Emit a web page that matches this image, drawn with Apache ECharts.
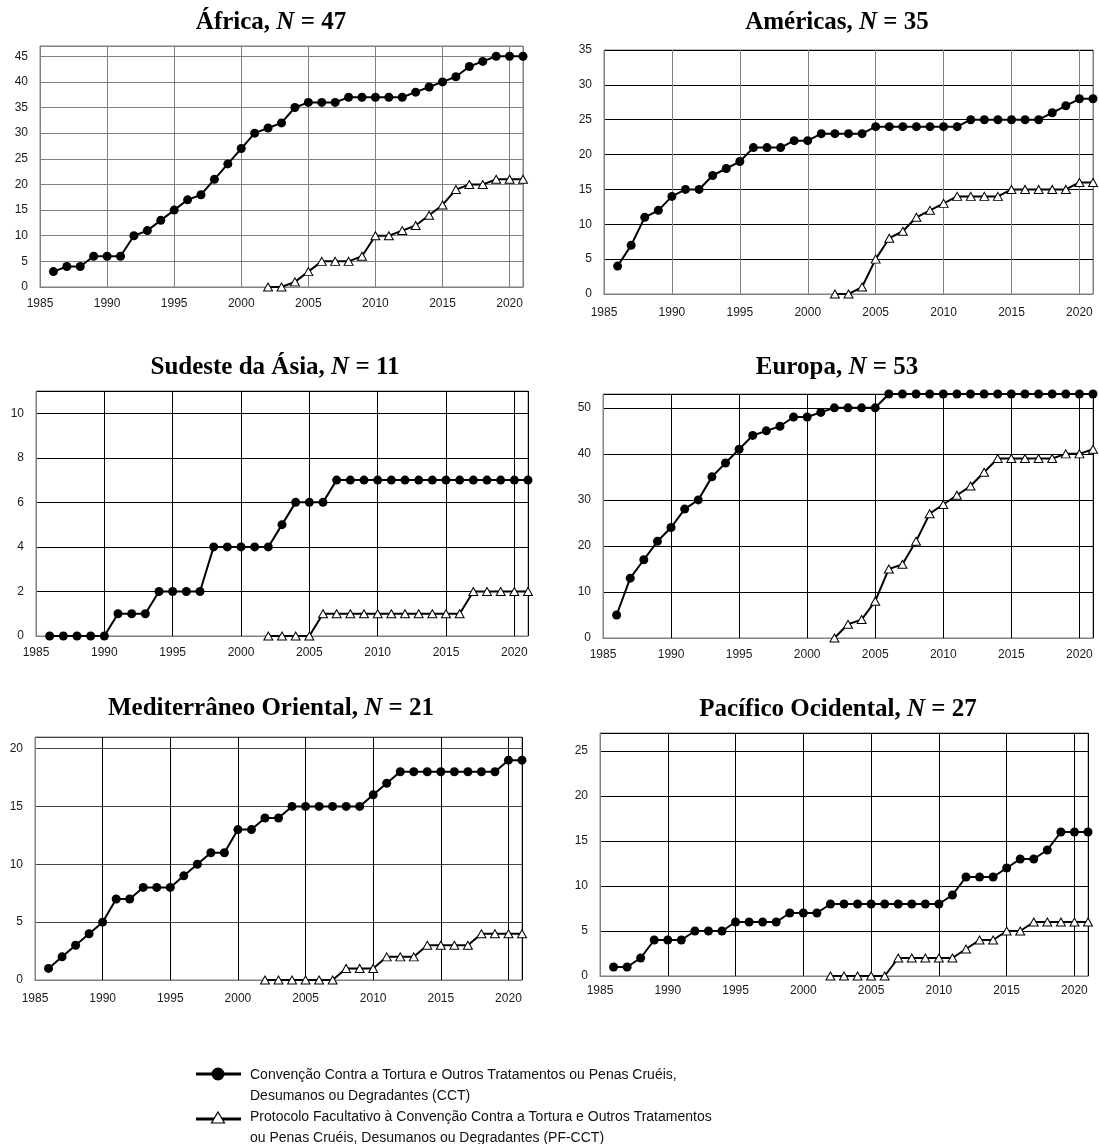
<!DOCTYPE html>
<html><head><meta charset="utf-8">
<script src="https://cdn.jsdelivr.net/npm/echarts@6/dist/echarts.min.js"></script>
<style>html,body{margin:0;padding:0;background:#fff}#c{width:1099px;height:1144px}</style>
</head><body><div id="c"></div><script>
// ---- data ----
const yearsCCT = [1986,1987,1988,1989,1990,1991,1992,1993,1994,1995,1996,1997,1998,1999,2000,2001,2002,2003,2004,2005,2006,2007,2008,2009,2010,2011,2012,2013,2014,2015,2016,2017,2018,2019,2020,2021];
const yearsPF = [2002,2003,2004,2005,2006,2007,2008,2009,2010,2011,2012,2013,2014,2015,2016,2017,2018,2019,2020,2021];
const xTickLabels = [1985,1990,1995,2000,2005,2010,2015,2020];

const regionNames = ['África','Américas','Sudeste da Ásia','Europa','Mediterrâneo Oriental','Pacífico Ocidental'];
const regionN = [47,35,11,53,21,27];

const africaCCT = [3,4,4,6,6,6,10,11,13,15,17,18,21,24,27,30,31,32,35,36,36,36,37,37,37,37,37,38,39,40,41,43,44,45,45,45];
const africaPF  = [0,0,1,3,5,5,5,6,10,10,11,12,14,16,19,20,20,21,21,21];

const americasCCT = [4,7,11,12,14,15,15,17,18,19,21,21,21,22,22,23,23,23,23,24,24,24,24,24,24,24,25,25,25,25,25,25,26,27,28,28];
const americasPF  = [0,0,1,5,8,9,11,12,13,14,14,14,14,15,15,15,15,15,16,16];

const seAsiaCCT = [0,0,0,0,0,1,1,1,2,2,2,2,4,4,4,4,4,5,6,6,6,7,7,7,7,7,7,7,7,7,7,7,7,7,7,7];
const seAsiaPF  = [0,0,0,0,1,1,1,1,1,1,1,1,1,1,1,2,2,2,2,2];

const europeCCT = [5,13,17,21,24,28,30,35,38,41,44,45,46,48,48,49,50,50,50,50,53,53,53,53,53,53,53,53,53,53,53,53,53,53,53,53];
const europePF  = [0,3,4,8,15,16,21,27,29,31,33,36,39,39,39,39,39,40,40,41];

const medCCT = [1,2,3,4,5,7,7,8,8,8,9,10,11,11,13,13,14,14,15,15,15,15,15,15,16,17,18,18,18,18,18,18,18,18,19,19];
const medPF  = [0,0,0,0,0,0,1,1,1,2,2,2,3,3,3,3,4,4,4,4];

const pacificCCT = [1,1,2,4,4,4,5,5,5,6,6,6,6,7,7,7,8,8,8,8,8,8,8,8,8,9,11,11,11,12,13,13,14,16,16,16];
const pacificPF  = [0,0,0,0,0,2,2,2,2,2,3,4,4,5,5,6,6,6,6,6];

const seriesCCT = [africaCCT, americasCCT, seAsiaCCT, europeCCT, medCCT, pacificCCT];
const seriesPF = [africaPF, americasPF, seAsiaPF, europePF, medPF, pacificPF];
const yIntervals = [5,5,2,10,5,5];

const legendLabels = [
  'Convenção Contra a Tortura e Outros Tratamentos ou Penas Cruéis,\nDesumanos ou Degradantes (CCT)',
  'Protocolo Facultativo à Convenção Contra a Tortura e Outros Tratamentos\nou Penas Cruéis, Desumanos ou Degradantes (PF-CCT)'
];

// ---- layout ----
const layout = [
  {grid:{left:40,top:46,width:483,height:241}, tx:271, ty:10, h:'#808080', v:'#808080', xm:11},
  {grid:{left:604,top:50,width:489,height:244}, tx:837, ty:10, h:'#000', v:'#808080', xm:13},
  {grid:{left:36,top:391,width:492,height:245}, tx:275, ty:355, h:'#000', v:'#000', xm:11},
  {grid:{left:603,top:394,width:490,height:244}, tx:837, ty:355, h:'#000', v:'#000', xm:11},
  {grid:{left:35,top:737,width:487,height:243}, tx:271, ty:696, h:'#444', v:'#000', xm:13},
  {grid:{left:600,top:733,width:488,height:243}, tx:838, ty:697, h:'#000', v:'#000', xm:9}
];

const serifB = {fontFamily:'Liberation Serif', fontWeight:'bold', fontSize:25, color:'#000', lineHeight:25};
const serifBI = Object.assign({}, serifB, {fontStyle:'italic'});

const grids = [], xAxes = [], yAxes = [], series = [], titles = [];
layout.forEach((L, i) => {
  grids.push(Object.assign({show:true, borderColor:'#808080', borderWidth:1, containLabel:false}, L.grid));
  titles.push({
    text: '{b|' + regionNames[i] + ', }{i|N}{b| = ' + regionN[i] + '}',
    left: L.tx, top: L.ty, textAlign: 'center', padding: 0,
    textStyle: {rich: {b: serifB, i: serifBI}}
  });
  xAxes.push({
    type:'value', gridIndex:i, min:1985, max:2021, interval:5,
    axisLine:{show:true, lineStyle:{color:'#808080', width:1}},
    axisTick:{show:false},
    splitLine:{show:true, lineStyle:{color:L.v, width:1}},
    axisLabel:{show:true, margin:L.xm, fontFamily:'Liberation Sans', fontSize:12, color:'#1a1a1a',
      showMinLabel:true, showMaxLabel:false,
      formatter: v => xTickLabels.indexOf(v) >= 0 ? String(v) : ''}
  });
  const maxOnTick = regionN[i] % yIntervals[i] === 0;
  yAxes.push({
    type:'value', gridIndex:i, min:0, max:regionN[i], interval:yIntervals[i],
    axisLine:{show:true, lineStyle:{color:'#808080', width:1}},
    axisTick:{show:false},
    splitLine:{show:true, lineStyle:{color:L.h, width:1}},
    axisLabel:{show:true, margin:12, fontFamily:'Liberation Sans', fontSize:12, color:'#1a1a1a',
      showMinLabel:true, showMaxLabel:maxOnTick, formatter: v => String(v)}
  });
  series.push({
    type:'line', name:'CCT', xAxisIndex:i, yAxisIndex:i, clip:false, z:4,
    data: yearsCCT.map((y,k) => [y, seriesCCT[i][k]]),
    symbol:'circle', symbolSize:9, showAllSymbol:true,
    lineStyle:{color:'#000', width:2}, itemStyle:{color:'#000'}
  });
  series.push({
    type:'line', name:'PF-CCT', xAxisIndex:i, yAxisIndex:i, clip:false, z:3,
    data: yearsPF.map((y,k) => [y, seriesPF[i][k]]),
    symbol:'triangle', symbolSize:[9,8], showAllSymbol:true,
    lineStyle:{color:'#000', width:2}, itemStyle:{color:'#fff', borderColor:'#000', borderWidth:1}
  });
});

const legendText = {fontFamily:'Liberation Sans', fontSize:14, fill:'#111', lineHeight:21};
const graphic = [
  {type:'line', shape:{x1:196,y1:1074,x2:241,y2:1074}, style:{stroke:'#000', lineWidth:3}},
  {type:'circle', shape:{cx:218, cy:1074, r:6.5}, style:{fill:'#000'}},
  {type:'text', x:250, y:1065, style:Object.assign({text:legendLabels[0], verticalAlign:'top'}, legendText)},
  {type:'line', shape:{x1:196,y1:1119,x2:241,y2:1119}, style:{stroke:'#000', lineWidth:3}},
  {type:'polygon', shape:{points:[[218,1112],[224.5,1123],[211.5,1123]]}, style:{fill:'#fff', stroke:'#000', lineWidth:1.2}},
  {type:'text', x:250, y:1107, style:Object.assign({text:legendLabels[1], verticalAlign:'top'}, legendText)}
];

const chart = echarts.init(document.getElementById('c'), null, {renderer:'canvas'});
chart.setOption({
  animation:false,
  backgroundColor:'#fff',
  title: titles,
  grid: grids,
  xAxis: xAxes,
  yAxis: yAxes,
  series: series,
  graphic: graphic
});
</script></body></html>
